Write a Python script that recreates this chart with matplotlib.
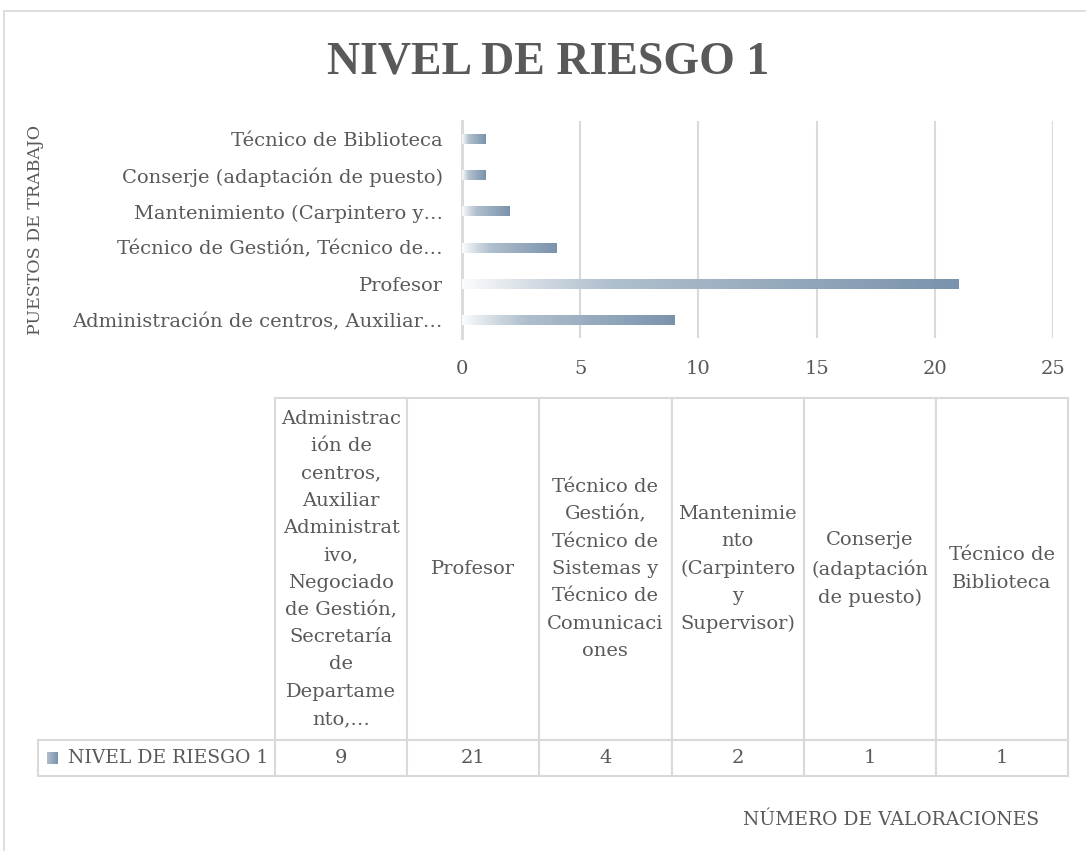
import matplotlib.pyplot as plt
import numpy as np
from matplotlib.colors import LinearSegmentedColormap
from matplotlib.table import Table
from matplotlib.patches import Rectangle

# Data
axis_labels = ['Administración de centros, Auxiliar…',
               'Profesor',
               'Técnico de Gestión, Técnico de…',
               'Mantenimiento (Carpintero y…',
               'Conserje (adaptación de puesto)',
               'Técnico de Biblioteca']
table_labels = ['Administrac\nión de\ncentros,\nAuxiliar\nAdministrat\nivo,\nNegociado\nde Gestión,\nSecretaría\nde\nDepartame\nnto,…',
                'Profesor',
                'Técnico de\nGestión,\nTécnico de\nSistemas y\nTécnico de\nComunicaci\nones',
                'Mantenimie\nnto\n(Carpintero\ny\nSupervisor)',
                'Conserje\n(adaptación\nde puesto)',
                'Técnico de\nBiblioteca']
values = [9, 21, 4, 2, 1, 1]
series_name = 'NIVEL DE RIESGO 1'
x_ticks = [0, 5, 10, 15, 20, 25]

txt = '#595959'
grid_c = '#D9D9D9'
plt.rcParams['font.family'] = ['DejaVu Serif']

grad = LinearSegmentedColormap.from_list('bar', [(0.0, '#FBFCFD'), (0.15, '#D2DAE2'),
                                                  (0.3, '#B0BFCD'), (1.0, '#7A93AC')])
g = np.linspace(0, 1, 256).reshape(1, -1)

W, H = 1086, 851
fig = plt.figure(figsize=(W / 100, H / 100), dpi=100)

# chart area border
fig.patches.append(Rectangle((4 / W, -0.1), 1.2, 1 - 11 / H + 0.1, transform=fig.transFigure,
                             fill=False, edgecolor=grid_c, linewidth=1.2))

ax = fig.add_axes([462 / W, 1 - 338 / H, (1053 - 462) / W, (338 - 121) / H])
y = np.arange(len(values))
bars = ax.barh(y, values, height=0.28, color='none', zorder=3)
for b in bars:
    x0, y0 = b.get_x(), b.get_y()
    im = ax.imshow(g, cmap=grad, aspect='auto', zorder=3,
                   extent=[x0, x0 + b.get_width(), y0, y0 + b.get_height()])
    im.set_clip_path(b)

ax.set_xlim(0, 25)
ax.set_ylim(-0.5, len(values) - 0.5)
ax.set_xticks(x_ticks)
ax.set_yticks(y)
ax.set_yticklabels(axis_labels)
ax.grid(axis='x', color=grid_c, linewidth=1.5, zorder=0)
for s in ['top', 'right', 'bottom']:
    ax.spines[s].set_visible(False)
ax.spines['left'].set_color(grid_c)
ax.spines['left'].set_linewidth(2)
ax.tick_params(length=0, labelsize=14, labelcolor=txt)
ax.tick_params(axis='x', pad=16)
ax.tick_params(axis='y', pad=14)

fig.text(548 / W, 1 - 62 / H, series_name, ha='center', va='center', fontsize=33,
         fontweight='bold', color=txt, family='Liberation Serif')
fig.text(36 / W, 1 - 230 / H, 'PUESTOS DE TRABAJO', rotation=90, ha='center', va='center',
         fontsize=12.5, color=txt)
fig.text(891 / W, 1 - 820 / H, 'NÚMERO DE VALORACIONES', ha='center', va='center',
         fontsize=13.5, color=txt)

# data table
tx0, tx1, ty0, ty1 = 38, 1068, 398, 776
tab_ax = fig.add_axes([tx0 / W, 1 - ty1 / H, (tx1 - tx0) / W, (ty1 - ty0) / H])
tab_ax.axis('off')
tbl = Table(tab_ax, bbox=[0, 0, 1, 1])
lab_w = (275 - tx0) / (tx1 - tx0)
col_w = (1 - lab_w) / len(values)
head_h = (740 - ty0) / (ty1 - ty0)
row_h = 1 - head_h
for j, (lab, v) in enumerate(zip(table_labels, values)):
    c = tbl.add_cell(0, j + 1, col_w, head_h, text=lab, loc='center', edgecolor=grid_c)
    c.get_text().set_linespacing(1.66)
    tbl.add_cell(1, j + 1, col_w, row_h, text=str(v), loc='center', edgecolor=grid_c)
rc = tbl.add_cell(1, 0, lab_w, row_h, text=series_name, loc='left', edgecolor=grid_c)
rc.PAD = 0.125
tbl.auto_set_font_size(False)
tbl.set_fontsize(14)
for (r, col), cell in tbl.get_celld().items():
    cell.set_linewidth(1.5)
    cell.get_text().set_color(txt)
rc.get_text().set_fontsize(13.5)
tab_ax.add_table(tbl)

# legend key in table
kx0 = (47 - tx0) / (tx1 - tx0)
kx1 = (58 - tx0) / (tx1 - tx0)
ky0 = (ty1 - 764) / (ty1 - ty0)
ky1 = (ty1 - 752) / (ty1 - ty0)
tab_ax.imshow(g[:, 80:], cmap=grad, vmin=0, vmax=1, aspect='auto',
              extent=[kx0, kx1, ky0, ky1], zorder=5)
tab_ax.set_xlim(0, 1)
tab_ax.set_ylim(0, 1)

fig.savefig('out.png', dpi=100)
